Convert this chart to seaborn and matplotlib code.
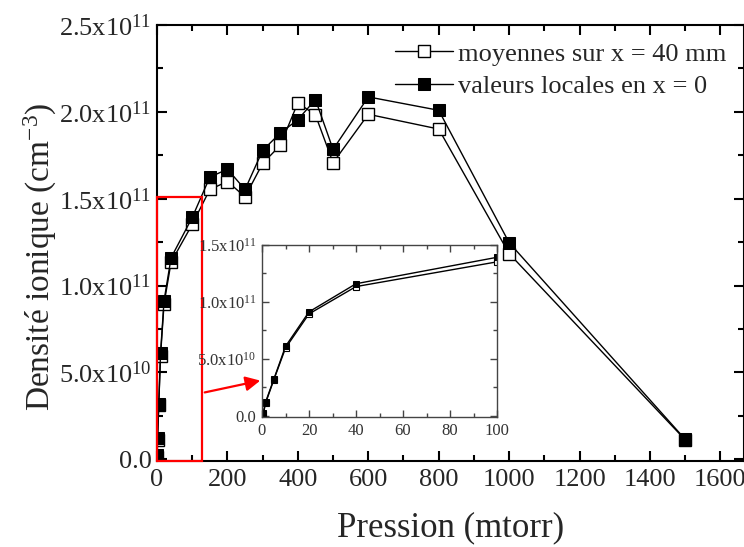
import matplotlib
matplotlib.use("Agg")
import matplotlib.pyplot as plt
import seaborn as sns
import pandas as pd
from matplotlib.patches import Rectangle, FancyArrowPatch
from matplotlib.ticker import MultipleLocator, FuncFormatter

# --- données ---
PRESSION = [0.5, 1.5, 5, 10, 20, 40, 100, 150, 200, 250, 300, 350, 400, 450, 500, 600, 800, 1000, 1500]
MOYENNES = [1.2e9, 1.1e10, 3.15e10, 5.95e10, 8.95e10, 1.135e11, 1.352e11, 1.553e11, 1.599e11, 1.511e11,
            1.703e11, 1.807e11, 2.052e11, 1.982e11, 1.707e11, 1.986e11, 1.901e11, 1.184e11, 1.12e10]
LOCALES = [2.4e9, 1.2e10, 3.2e10, 6.1e10, 9.13e10, 1.16e11, 1.392e11, 1.624e11, 1.670e11, 1.553e11,
           1.778e11, 1.878e11, 1.955e11, 2.071e11, 1.784e11, 2.086e11, 2.009e11, 1.247e11, 1.15e10]
LABEL_MOY = "moyennes sur x = 40 mm"
LABEL_LOC = "valeurs locales en x = 0"
YTICKS_MAIN = ["0.0", "5.0x10$^{10}$", "1.0x10$^{11}$", "1.5x10$^{11}$", "2.0x10$^{11}$", "2.5x10$^{11}$"]

sns.set_style("ticks")
plt.rcParams["font.family"] = ["Liberation Serif", "DejaVu Serif"]
plt.rcParams["mathtext.fontset"] = "custom"
plt.rcParams["mathtext.rm"] = "Liberation Serif"
plt.rcParams["mathtext.it"] = "Liberation Serif:italic"


def fmt_sci(v, pos):
    if abs(v) < 1:
        return "0.0"
    exp = len(str(int(round(v)))) - 1
    mant = v / 10 ** exp
    return f"{mant:.1f}x10$^{{{exp}}}$"


def style_axes(ax, size, lw=1.0, color="black"):
    ax.tick_params(which="both", direction="in", top=True, right=True, width=lw, color=color,
                   labelsize=size, pad=4)
    ax.tick_params(which="major", length=7 if size > 14 else 5)
    ax.tick_params(which="minor", length=4 if size > 14 else 3)
    for s in ax.spines.values():
        s.set_linewidth(lw)
        s.set_color(color)
        s.set_visible(True)


df = pd.DataFrame({"p": PRESSION, "moy": MOYENNES, "loc": LOCALES})

fig = plt.figure(figsize=(7.44, 5.47), dpi=100)
ax = fig.add_axes([157 / 744, 1 - 461 / 547, 1 - 157 / 744, (461 - 25) / 547])

sns.lineplot(data=df, x="p", y="moy", ax=ax, sort=False, color="black", lw=1.0, marker="s",
             markersize=9, markerfacecolor="white", markeredgecolor="black", markeredgewidth=1.0,
             label=LABEL_MOY)
sns.lineplot(data=df, x="p", y="loc", ax=ax, sort=False, color="black", lw=1.0, marker="s",
             markersize=9, markerfacecolor="black", markeredgecolor="black", label=LABEL_LOC)

ax.set_xlim(0, 1667)
ax.set_ylim(-1e9, 2.5e11)
ax.xaxis.set_major_locator(MultipleLocator(200))
ax.xaxis.set_minor_locator(MultipleLocator(100))
ax.yaxis.set_major_locator(MultipleLocator(5e10))
ax.yaxis.set_minor_locator(MultipleLocator(2.5e10))
ax.set_yticks([0, 5e10, 1e11, 1.5e11, 2e11, 2.5e11])
ax.set_yticklabels(YTICKS_MAIN)
style_axes(ax, 19, lw=1.5)
ax.tick_params(axis="x", pad=6)
ax.set_xlabel("Pression (mtorr)", fontsize=25)
ax.xaxis.set_label_coords(0.5, -0.115)
ax.set_ylabel("Densité ionique (cm$^{-3}$)", fontsize=24)
ax.yaxis.set_label_coords(-0.167, 0.468)

leg = ax.legend(loc="upper right", frameon=False, fontsize=19, handlelength=2.2,
                handletextpad=0.2, borderaxespad=0.25, labelspacing=0.35)

# cadre rouge (zone agrandie)
ax.add_patch(Rectangle((0, -1e9), 127, 1.52e11, fill=False, edgecolor="red", lw=1.6,
                       clip_on=False, zorder=5))
fig.add_artist(FancyArrowPatch((202 / 744, 1 - 393 / 547), (263 / 744, 1 - 380 / 547),
                               transform=fig.transFigure, arrowstyle="-|>", mutation_scale=22,
                               color="red", lw=1.6))

# --- encart ---
ins = fig.add_axes([262 / 744, 1 - 417 / 547, (497 - 262) / 744, (417 - 245) / 547])
sub = df[df["p"] <= 100]
sns.lineplot(data=sub, x="p", y="moy", ax=ins, sort=False, color="black", lw=1.0, marker="s",
             markersize=5, markerfacecolor="white", markeredgecolor="black", markeredgewidth=0.8,
             legend=False)
sns.lineplot(data=sub, x="p", y="loc", ax=ins, sort=False, color="black", lw=1.0, marker="s",
             markersize=5, markerfacecolor="black", markeredgecolor="black", legend=False)
ins.set_xlim(0, 100)
ins.set_ylim(-1e9, 1.5e11)
ins.xaxis.set_major_locator(MultipleLocator(20))
ins.xaxis.set_minor_locator(MultipleLocator(10))
ins.yaxis.set_major_locator(MultipleLocator(5e10))
ins.yaxis.set_minor_locator(MultipleLocator(2.5e10))
ins.yaxis.set_major_formatter(FuncFormatter(fmt_sci))
style_axes(ins, 12, lw=1.0, color="#444444")
ins.tick_params(labelcolor="#333333")
ins.set_xlabel("")
ins.set_ylabel("")

fig.savefig("out.png", dpi=100)
